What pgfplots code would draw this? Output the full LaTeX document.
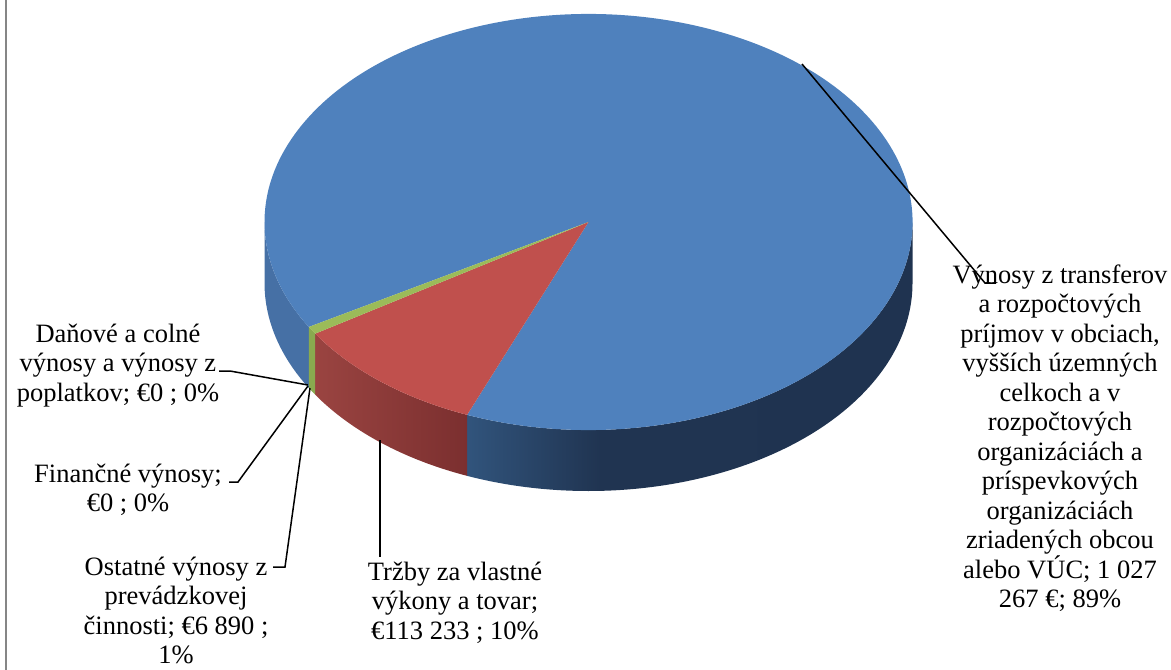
\documentclass[border=0pt]{standalone}
\usepackage{pgfplots}
\pgfplotsset{compat=1.18}
\usepackage{pgfplotstable}
\usepackage{fontspec}
\setmainfont{Liberation Serif}

\definecolor{pieblue}{HTML}{4F81BD}
\definecolor{piered}{HTML}{C0504D}
\definecolor{piegreen}{HTML}{9BBB59}
\definecolor{sidegreen}{HTML}{89AA4F}
\definecolor{sideblueL}{HTML}{4670A5}
\definecolor{frame}{HTML}{868686}
\pgfdeclarehorizontalshading{blueside}{100bp}{color(0bp)=(rgb,255:red,49;green,84;blue,124); color(25bp)=(rgb,255:red,49;green,84;blue,124); color(40bp)=(rgb,255:red,32;green,52;blue,81); color(75bp)=(rgb,255:red,31;green,51;blue,80); color(100bp)=(rgb,255:red,31;green,51;blue,80)}
\pgfdeclarehorizontalshading{redside}{100bp}{color(0bp)=(rgb,255:red,154;green,68;blue,65); color(25bp)=(rgb,255:red,154;green,68;blue,65); color(75bp)=(rgb,255:red,123;green,47;blue,47); color(100bp)=(rgb,255:red,123;green,47;blue,47)}

% data: category, value (EUR)
\pgfplotstableread{
id value
Vynosy   1027267
Trzby    113233
Ostatne  6890
Danove   0
Financne 0
}\piedata
\pgfplotstablegetelem{0}{value}\of\piedata\edef\vA{\pgfplotsretval}
\pgfplotstablegetelem{1}{value}\of\piedata\edef\vB{\pgfplotsretval}
\pgfplotstablegetelem{2}{value}\of\piedata\edef\vC{\pgfplotsretval}
\pgfplotstablegetelem{3}{value}\of\piedata\edef\vD{\pgfplotsretval}
\pgfplotstablegetelem{4}{value}\of\piedata\edef\vE{\pgfplotsretval}
\edef\tot{\fpeval{\vA+\vB+\vC+\vD+\vE}}
% angles (parametric, counter-clockwise); boundary blue/red at 248 deg
\def\base{248}
\edef\aBlueEnd{\fpeval{\base+360*\vA/\tot}}
\edef\aRedStart{\fpeval{\base-360*\vB/\tot}}
\edef\aGreenStart{\fpeval{\aRedStart-360*\vC/\tot}}
\edef\aBlueWrap{\fpeval{\aBlueEnd-360}}

\def\cx{588.5}\def\cy{222}\def\rx{324}\def\ry{208}
\newcommand\lf{\fontsize{26.5bp}{29.5bp}\selectfont}
\newcommand\lline[3]{\node[anchor=base,inner sep=0pt,font=\lf] at (axis cs:#1,#2) {#3};}
% side wall between parametric angles #2 and #3
\newcommand\sidewall[3]{%
  \path[#1] (axis cs:{\cx+\rx*cos(#2)},{\cy-\ry*sin(#2)})
     arc[start angle=#2,end angle=#3,x radius=\rx bp,y radius=\ry bp]
     -- ++(0,-61bp)
     arc[start angle=#3,end angle=#2,x radius=\rx bp,y radius=\ry bp] -- cycle;}
\newcommand\topface[3]{%
  \fill[#1] (axis cs:\cx,\cy) -- (axis cs:{\cx+\rx*cos(#2)},{\cy-\ry*sin(#2)})
     arc[start angle=#2,end angle=#3,x radius=\rx bp,y radius=\ry bp] -- cycle;}

\begin{document}
\begin{tikzpicture}
\begin{axis}[
  width=1171bp, height=670bp, scale only axis,
  xmin=0, xmax=1171, ymin=0, ymax=670, y dir=reverse,
  enlargelimits=false, hide axis, clip=false]
\coordinate (BBa) at (rel axis cs:0,0);
\coordinate (BBb) at (rel axis cs:1,1);
\draw[frame, line width=1.8bp] (axis cs:6,0) -- (axis cs:6,670);

% side walls (visible front half 180..360)
\sidewall{shading=blueside}{\base}{360}
\sidewall{fill=sideblueL}{180}{\aBlueWrap}
\sidewall{shading=redside}{\aRedStart}{\base}
\sidewall{fill=sidegreen}{\aGreenStart}{\aRedStart}

% top faces
\topface{pieblue}{\base}{\aBlueEnd}
\topface{piered}{\aRedStart}{\base}
\topface{piegreen}{\aGreenStart}{\aRedStart}

% leader lines
\draw[black, line width=1.5bp] (axis cs:802,64) -- (axis cs:985,283) -- (axis cs:996,283);
\draw[black, line width=1.5bp] (axis cs:380,440) -- (axis cs:380,557);
\draw[black, line width=1.5bp] (axis cs:219,371) -- (axis cs:230,371) -- (axis cs:308,385);
\draw[black, line width=1.5bp] (axis cs:229,482) -- (axis cs:238,482) -- (axis cs:308,386);
\draw[black, line width=1.5bp] (axis cs:273,567) -- (axis cs:285,567) -- (axis cs:310,388);

% labels
\lline{1060}{283}{Výnosy z transferov}
\lline{1060}{312.5}{a rozpočtových}
\lline{1060}{342}{príjmov v obciach,}
\lline{1060}{371.5}{vyšších územných}
\lline{1060}{401}{celkoch a v}
\lline{1060}{430.5}{rozpočtových}
\lline{1060}{460}{organizáciách a}
\lline{1060}{489.5}{príspevkových}
\lline{1060}{519}{organizáciách}
\lline{1060}{548.5}{zriadených obcou}
\lline{1060}{578}{alebo VÚC; 1 027}
\lline{1060}{607.5}{267 €; 89\%}

\lline{455}{580}{Tržby za vlastné}
\lline{455}{609.5}{výkony a tovar;}
\lline{455}{639}{€113 233 ; 10\%}

\lline{118}{342}{Daňové a colné}
\lline{118}{371.5}{výnosy a výnosy z}
\lline{118}{401}{poplatkov; €0 ; 0\%}

\lline{128}{482}{Finančné výnosy;}
\lline{128}{511.5}{€0 ; 0\%}

\lline{176}{575}{Ostatné výnosy z}
\lline{176}{604.5}{prevádzkovej}
\lline{176}{634}{činnosti; €6 890 ;}
\lline{176}{663.5}{1\%}
\end{axis}
\pgfresetboundingbox
\useasboundingbox (BBa) rectangle (BBb);
\end{tikzpicture}
\end{document}
